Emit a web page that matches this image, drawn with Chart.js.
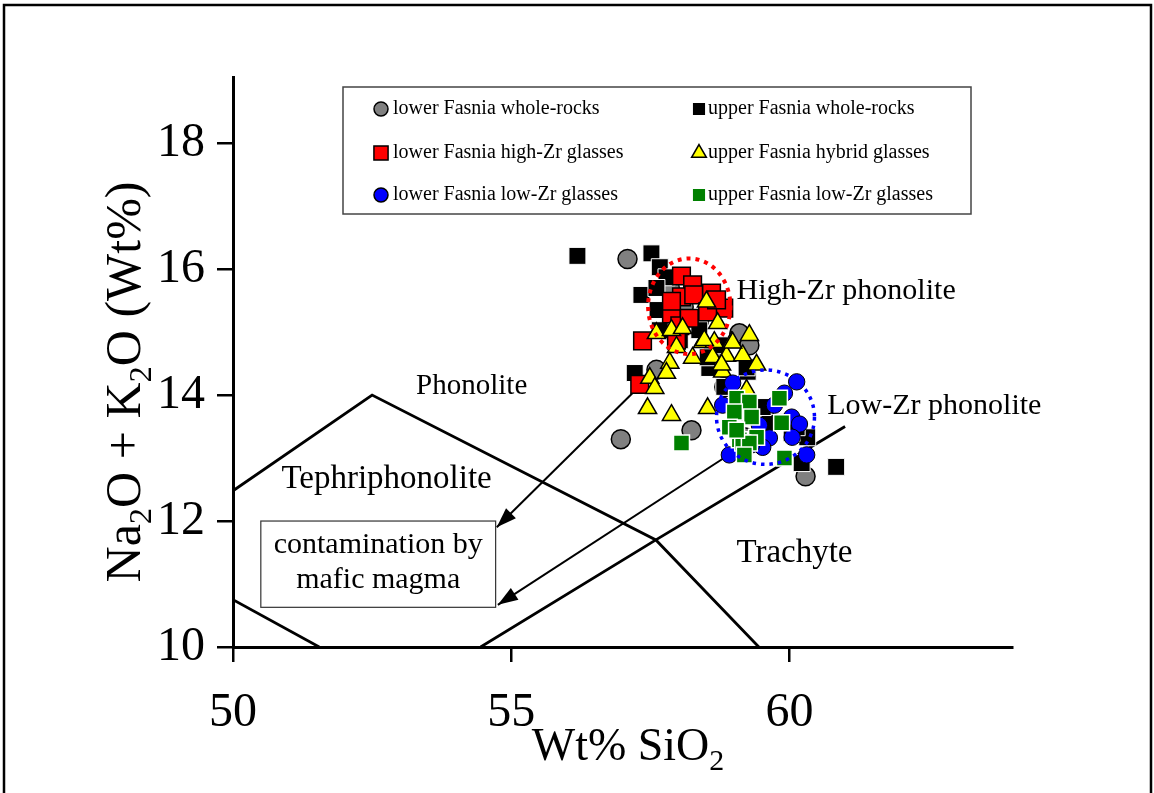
<!DOCTYPE html>
<html>
<head>
<meta charset="utf-8">
<script src="https://cdn.jsdelivr.net/npm/chart.js@4.4.0/dist/chart.umd.min.js"></script>
<style>
  html, body { margin: 0; padding: 0; background: #fff; }
  #wrap { position: relative; width: 1154px; height: 793px; }
</style>
</head>
<body>
<div id="wrap"><canvas id="tasChart" width="1154" height="793"></canvas></div>
<script>
// --- sample data (SiO2 wt%, Na2O+K2O wt%) ---
const lowerWrSiO2 = [57.09, 56.97, 58.24, 57.61, 59.10, 59.28, 60.29, 58.10, 57.85, 58.67, 58.38, 59.55, 58.83, 59.19];
const lowerWrAlk  = [16.16, 13.30, 13.44, 14.40, 14.98, 14.79, 12.71, 15.40, 15.70, 14.63, 15.19, 13.76, 14.13, 13.33];

const upperWrSiO2 = [56.19, 57.52, 57.67, 57.34, 57.79, 57.61, 57.63, 57.67, 57.22, 60.84, 60.22, 60.32, 60.04, 59.64, 59.52, 59.25, 58.56, 58.53, 58.83, 59.23, 60.13, 59.95, 58.38, 58.74, 58.03];
const upperWrAlk  = [16.21, 16.25, 16.03, 15.59, 15.87, 15.70, 15.35, 15.03, 14.35, 12.86, 12.92, 13.33, 13.40, 13.56, 13.81, 14.37, 14.43, 14.60, 14.13, 14.44, 13.49, 13.57, 15.03, 14.79, 14.87];

const lowerHighZrSiO2 = [58.06, 58.26, 58.06, 58.28, 58.60, 58.82, 57.88, 58.03, 58.53, 57.36, 57.88, 57.31, 58.20, 57.97, 58.69];
const lowerHighZrAlk  = [15.89, 15.75, 15.56, 15.59, 15.62, 15.38, 15.29, 15.10, 15.32, 14.86, 15.49, 14.17, 15.22, 14.87, 15.51];

const upperHybridSiO2 = [58.51, 57.61, 57.88, 58.08, 58.71, 59.28, 57.97, 58.26, 58.44, 58.65, 58.96, 58.62, 58.87, 59.16, 59.41, 57.85, 58.80, 57.49, 57.58, 57.79, 57.45, 57.88, 58.53, 58.78, 58.98, 59.23, 58.47];
const upperHybridAlk  = [15.48, 14.98, 15.03, 15.06, 15.14, 14.95, 14.76, 14.59, 14.84, 14.84, 14.84, 14.60, 14.62, 14.63, 14.48, 14.51, 14.37, 14.27, 14.11, 14.35, 13.79, 13.68, 13.79, 14.48, 14.83, 14.08, 14.87];

const lowerLowZrSiO2 = [58.98, 60.13, 59.91, 58.80, 60.04, 60.18, 59.64, 59.52, 58.92, 60.31, 60.05, 59.19, 59.73, 59.46, 59.32];
const lowerLowZrAlk  = [14.19, 14.21, 14.03, 13.84, 13.65, 13.54, 13.32, 13.17, 13.05, 13.05, 13.33, 13.73, 13.84, 13.52, 13.21];

const upperLowZrSiO2 = [59.05, 59.28, 59.82, 59.01, 59.32, 59.86, 58.92, 59.10, 59.41, 59.16, 59.28, 59.19, 59.91, 58.06, 59.05];
const upperLowZrAlk  = [13.95, 13.89, 13.95, 13.73, 13.65, 13.56, 13.49, 13.29, 13.33, 13.24, 13.24, 13.05, 13.00, 13.24, 13.44];

// TAS field boundaries
const phonoBoundSiO2 = [50, 52.5, 57.6, 59.45];
const phonoBoundAlk  = [12.48, 14, 11.7, 10];
const tephriBoundSiO2 = [50, 51.55];
const tephriBoundAlk  = [10.75, 10];
const trachyBoundSiO2 = [54.45, 57.6, 61.0];
const trachyBoundAlk  = [10, 11.7, 13.5];

// contamination arrows (start -> tip)
const arrowUpperSiO2 = [57.66, 54.74];
const arrowUpperAlk  = [14.45, 11.90];
const arrowLowerSiO2 = [59.10, 54.76];
const arrowLowerAlk  = [13.16, 10.67];

// dotted group outlines: centre x, centre y, radius x, radius y (data units)
const highZrOutline = [58.2, 15.41, 0.74, 0.76];
const lowZrOutline  = [59.57, 13.65, 0.88, 0.75];

const xTicks = [50, 55, 60];
const yTicks = [10, 12, 14, 16, 18];

const pts = (xs, ys) => xs.map((x, i) => ({ x: x, y: ys[i] }));
const SERIF = "'Liberation Serif', 'Times New Roman', serif";

function boundary(xs, ys, w) {
  return {
    data: pts(xs, ys), showLine: true, pointRadius: 0, borderColor: '#000',
    borderWidth: w, fill: false, tension: 0, order: 20, isGuide: true
  };
}

const datasets = [
  { label: 'lower Fasnia whole-rocks', data: pts(lowerWrSiO2, lowerWrAlk), pointStyle: 'circle', pointRadius: 9.5,
    backgroundColor: '#808080', borderColor: '#000', pointBorderWidth: 1.5, order: 6, legendRadius: 7 },
  { label: 'upper Fasnia whole-rocks', data: pts(upperWrSiO2, upperWrAlk), pointStyle: 'rect', pointRadius: 12,
    backgroundColor: '#000', borderColor: '#fff', pointBorderWidth: 1, order: 5, legendRadius: 7.5 },
  { label: 'lower Fasnia high-Zr glasses', data: pts(lowerHighZrSiO2, lowerHighZrAlk), pointStyle: 'rect', pointRadius: 12.5,
    backgroundColor: '#ff0000', borderColor: '#000', pointBorderWidth: 1.5, order: 4, legendRadius: 10 },
  { label: 'upper Fasnia hybrid glasses', data: pts(upperHybridSiO2, upperHybridAlk), pointStyle: 'triangle', pointRadius: 10.5,
    backgroundColor: '#ffff00', borderColor: '#000', pointBorderWidth: 1.5, order: 3, legendRadius: 8.5 },
  { label: 'lower Fasnia low-Zr glasses', data: pts(lowerLowZrSiO2, lowerLowZrAlk), pointStyle: 'circle', pointRadius: 8.2,
    backgroundColor: '#0000ff', borderColor: '#000', pointBorderWidth: 1, order: 2, legendRadius: 7 },
  { label: 'upper Fasnia low-Zr glasses', data: pts(upperLowZrSiO2, upperLowZrAlk), pointStyle: 'rect', pointRadius: 11.3,
    backgroundColor: '#008000', borderColor: '#fff', pointBorderWidth: 1.5, order: 1, legendRadius: 7.5 },
  boundary(phonoBoundSiO2, phonoBoundAlk, 2.8),
  boundary(tephriBoundSiO2, tephriBoundAlk, 2.8),
  boundary(trachyBoundSiO2, trachyBoundAlk, 2.8),
  Object.assign(boundary(arrowUpperSiO2, arrowUpperAlk, 2), { arrow: true }),
  Object.assign(boundary(arrowLowerSiO2, arrowLowerAlk, 2), { arrow: true })
];

// draws "text" pieces where [str, true] is a subscript
function richWidth(ctx, parts, size) {
  let w = 0;
  parts.forEach(p => {
    ctx.font = (p[1] ? size * 0.65 : size) + 'px ' + SERIF;
    w += ctx.measureText(p[0]).width;
  });
  return w;
}
function drawRich(ctx, parts, x, y, size) {
  let cx = x;
  parts.forEach(p => {
    ctx.font = (p[1] ? size * 0.65 : size) + 'px ' + SERIF;
    ctx.fillText(p[0], cx, p[1] ? y + size * 0.22 : y);
    cx += ctx.measureText(p[0]).width;
  });
}

const extras = {
  id: 'extras',
  beforeDraw(chart) {
    const ctx = chart.ctx;
    ctx.save();
    ctx.fillStyle = '#fff';
    ctx.fillRect(0, 0, chart.width, chart.height);
    ctx.strokeStyle = '#000';
    ctx.lineWidth = 2.5;
    ctx.beginPath();
    ctx.moveTo(4, 800); ctx.lineTo(4, 5); ctx.lineTo(1151, 5); ctx.lineTo(1151, 800);
    ctx.stroke();
    ctx.restore();
  },
  afterDatasetsDraw(chart) {
    const ctx = chart.ctx;
    const xs = chart.scales.x, ys = chart.scales.y;
    ctx.save();

    // arrow heads
    chart.data.datasets.forEach((ds, i) => {
      if (!ds.arrow) return;
      const d = chart.getDatasetMeta(i).data;
      const a = d[d.length - 2], b = d[d.length - 1];
      const ang = Math.atan2(b.y - a.y, b.x - a.x);
      ctx.fillStyle = '#000';
      ctx.beginPath();
      ctx.moveTo(b.x, b.y);
      ctx.lineTo(b.x - 20 * Math.cos(ang) + 7 * Math.sin(ang), b.y - 20 * Math.sin(ang) - 7 * Math.cos(ang));
      ctx.lineTo(b.x - 20 * Math.cos(ang) - 7 * Math.sin(ang), b.y - 20 * Math.sin(ang) + 7 * Math.cos(ang));
      ctx.closePath();
      ctx.fill();
    });

    // dotted outlines
    [[highZrOutline, '#ff0000', 4], [lowZrOutline, '#0000ff', 3.5]].forEach(o => {
      const e = o[0];
      const cx = xs.getPixelForValue(e[0]), cy = ys.getPixelForValue(e[1]);
      const rx = xs.getPixelForValue(e[0] + e[2]) - cx;
      const ry = cy - ys.getPixelForValue(e[1] + e[3]);
      ctx.strokeStyle = o[1];
      ctx.lineWidth = o[2];
      ctx.setLineDash([o[2], 5]);
      ctx.beginPath();
      ctx.ellipse(cx, cy, rx, ry, 0, 0, Math.PI * 2);
      ctx.stroke();
    });
    ctx.setLineDash([]);

    // field names
    ctx.fillStyle = '#000';
    ctx.textBaseline = 'middle';
    const names = [
      ['Phonolite', 54.29, 14.13, 'center', 29],
      ['Tephriphonolite', 52.76, 12.67, 'center', 33],
      ['High-Zr phonolite', 59.05, 15.65, 'left', 30],
      ['Low-Zr phonolite', 60.68, 13.83, 'left', 30],
      ['Trachyte', 60.09, 11.49, 'center', 33]
    ];
    names.forEach(n => {
      ctx.font = n[4] + 'px ' + SERIF;
      ctx.textAlign = n[3];
      ctx.fillText(n[0], xs.getPixelForValue(n[1]), ys.getPixelForValue(n[2]));
    });

    // contamination note box
    const bx0 = xs.getPixelForValue(50.5), bx1 = xs.getPixelForValue(54.72);
    const by0 = ys.getPixelForValue(12.0), by1 = ys.getPixelForValue(10.63);
    ctx.fillStyle = '#fff';
    ctx.fillRect(bx0, by0, bx1 - bx0, by1 - by0);
    ctx.strokeStyle = '#333';
    ctx.lineWidth = 1.2;
    ctx.strokeRect(bx0, by0, bx1 - bx0, by1 - by0);
    ctx.fillStyle = '#000';
    ctx.textAlign = 'center';
    ctx.font = '30px ' + SERIF;
    ctx.fillText('contamination by', (bx0 + bx1) / 2, ys.getPixelForValue(11.62));
    ctx.fillText('mafic magma', (bx0 + bx1) / 2, ys.getPixelForValue(11.06));

    // legend box
    ctx.fillStyle = '#fff';
    ctx.fillRect(343, 87, 628, 127);
    ctx.strokeStyle = '#444';
    ctx.lineWidth = 1.5;
    ctx.strokeRect(343, 87, 628, 127);
    ctx.font = '20px ' + SERIF;
    ctx.textAlign = 'left';
    const colX = [381, 699], rowY = [109, 153, 195];
    chart.data.datasets.filter(ds => !ds.isGuide).forEach((ds, i) => {
      const mx = colX[i % 2], my = rowY[Math.floor(i / 2)];
      ctx.fillStyle = ds.backgroundColor;
      ctx.strokeStyle = ds.borderColor === '#fff' ? ds.backgroundColor : ds.borderColor;
      ctx.lineWidth = 1.5;
      Chart.helpers.drawPoint(ctx, { pointStyle: ds.pointStyle, radius: ds.legendRadius, rotation: 0, borderWidth: 1.5 }, mx, my);
      ctx.fillStyle = '#000';
      ctx.fillText(ds.label, mx + (i % 2 ? 9 : 12), my);
    });

    // axis titles
    ctx.fillStyle = '#000';
    ctx.textBaseline = 'alphabetic';
    ctx.textAlign = 'left';
    const xt = [['Wt% SiO', false], ['2', true]];
    const xw = richWidth(ctx, xt, 46);
    drawRich(ctx, xt, 628 - xw / 2, 760, 46);

    const yt = [['Na', false], ['2', true], ['O + K', false], ['2', true], ['O (Wt%)', false]];
    const yw = richWidth(ctx, yt, 50);
    ctx.translate(140, 382);
    ctx.rotate(-Math.PI / 2);
    drawRich(ctx, yt, -yw / 2, 0, 50);
    ctx.restore();
  }
};

new Chart(document.getElementById('tasChart').getContext('2d'), {
  type: 'scatter',
  data: { datasets: datasets },
  options: {
    responsive: false,
    animation: false,
    devicePixelRatio: 1,
    layout: { padding: { left: 0, right: 142, top: 77, bottom: 0 } },
    plugins: { legend: { display: false }, tooltip: { enabled: false } },
    scales: {
      x: {
        type: 'linear', min: 50, max: 64,
        afterFit: s => { s.height = 146; },
        afterBuildTicks: s => { s.ticks = xTicks.map(v => ({ value: v })); },
        ticks: { includeBounds: false, padding: 23, color: '#000', font: { family: SERIF, size: 48 } },
        grid: { drawOnChartArea: false, drawTicks: true, tickLength: 15, color: '#000', lineWidth: 2.5 },
        border: { display: true, color: '#000', width: 3 }
      },
      y: {
        type: 'linear', min: 10, max: 19.05,
        afterFit: s => { s.width = 233; },
        afterBuildTicks: s => { s.ticks = yTicks.map(v => ({ value: v })); },
        ticks: { includeBounds: false, padding: 12, color: '#000', font: { family: SERIF, size: 48 } },
        grid: { drawOnChartArea: false, drawTicks: true, tickLength: 16, color: '#000', lineWidth: 2.5 },
        border: { display: true, color: '#000', width: 3 }
      }
    }
  },
  plugins: [extras]
});
</script>
</body>
</html>
